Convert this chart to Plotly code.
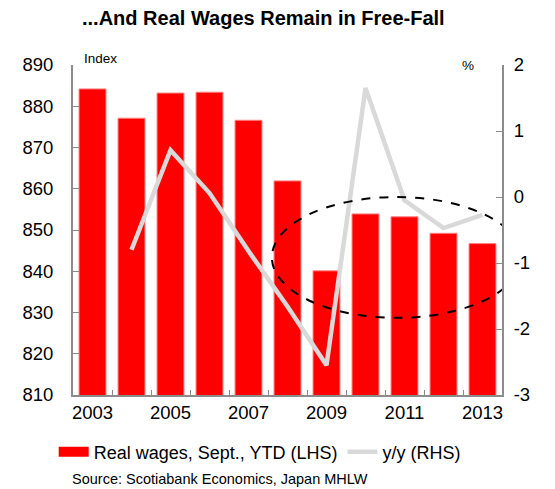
import plotly.graph_objects as go

years = [2003, 2004, 2005, 2006, 2007, 2008, 2009, 2010, 2011, 2012, 2013]
real_wages = [884.2, 877.1, 883.2, 883.4, 876.6, 861.9, 840.1, 853.9, 853.2, 849.2, 846.7]
yy_years = [2004, 2005, 2006, 2007, 2008, 2009, 2010, 2011, 2012, 2013]
yy_change = [-0.80, 0.71, 0.06, -0.82, -1.66, -2.55, 1.65, -0.05, -0.47, -0.27]
year_ticks = [2003, 2005, 2007, 2009, 2011, 2013]
rhs_ticks = [-3, -2, -1, 0, 1, 2]
rhs_labels = ["-3", "-2", "-1", "0", "1", "2"]

FONT = "Liberation Sans, Arial, sans-serif"
AXIS_GREY = "#8c8c8c"

fig = go.Figure()
fig.add_trace(go.Bar(
    x=years, y=real_wages, name="Real wages, Sept., YTD (LHS)", showlegend=False,
    marker=dict(color="#ff0000", line=dict(color="#ff8080", width=1)),
    width=0.69,
))
# legend stand-in so the key shows a wide red block like the original
fig.add_trace(go.Scatter(
    x=[None], y=[None], name="Real wages, Sept., YTD (LHS)", mode="lines",
    line=dict(color="#ff0000", width=10),
))
fig.add_trace(go.Scatter(
    x=yy_years, y=yy_change, name="y/y (RHS)", mode="lines", yaxis="y2",
    line=dict(color="#d9d9d9", width=4.5),
))

# dashed circle around the recent years
fig.add_shape(type="circle", xref="x", yref="y", x0=2007.6, x1=2014.0, y0=828.7, y1=858.0,
              line=dict(color="black", width=2, dash="dash"), layer="above")

# page body has an 8px margin, so the figure is drawn 8px smaller
fig.update_layout(
    width=547, height=481,
    margin=dict(l=65, r=53, t=57, b=94),
    plot_bgcolor="white", paper_bgcolor="white",
    font=dict(family=FONT, size=18, color="black"),
    showlegend=True,
    legend=dict(orientation="h", x=-0.045, xanchor="left", y=-0.173, yanchor="middle",
                font=dict(size=18), traceorder="normal"),
    xaxis=dict(
        range=[2002.5, 2013.5], tickvals=year_ticks,
        ticks="", showline=True, linecolor=AXIS_GREY, linewidth=2, showgrid=False,
        zeroline=False, tickfont=dict(size=18.5),
        minor=dict(tickvals=[y + 0.5 for y in years[:-1]], ticks="inside", ticklen=5,
                   tickcolor=AXIS_GREY, showgrid=False),
    ),
    yaxis=dict(
        range=[810, 890], dtick=10, ticks="inside", ticklen=6, tickcolor=AXIS_GREY,
        showline=True, linecolor=AXIS_GREY, linewidth=2, showgrid=False, zeroline=False,
        tickfont=dict(size=18.5), ticklabelstandoff=14,
    ),
    yaxis2=dict(
        range=[-3, 2], tickvals=rhs_ticks, ticktext=rhs_labels, overlaying="y", side="right",
        ticks="inside", ticklen=6, tickcolor=AXIS_GREY, showline=True, linecolor=AXIS_GREY,
        linewidth=2, showgrid=False, zeroline=False, tickfont=dict(size=18.5),
        ticklabelstandoff=6,
    ),
    annotations=[
        dict(text="<b>...And Real Wages Remain in Free-Fall</b>", xref="paper", yref="paper",
             x=0.443, y=1.142, xanchor="center", yanchor="middle", showarrow=False,
             font=dict(size=20)),
        dict(text="Index", xref="paper", yref="paper", x=0.022, y=1.02, xanchor="left",
             yanchor="middle", showarrow=False, font=dict(size=13.5)),
        dict(text="%", xref="paper", yref="paper", x=0.94, y=1.0, xanchor="right",
             yanchor="middle", showarrow=False, font=dict(size=13.5)),
        dict(text="Source: Scotiabank Economics, Japan MHLW", xref="paper", yref="paper",
             x=-0.007, y=-0.255, xanchor="left", yanchor="middle", showarrow=False,
             font=dict(size=14.5)),
    ],
)

fig.write_html("out.html")
